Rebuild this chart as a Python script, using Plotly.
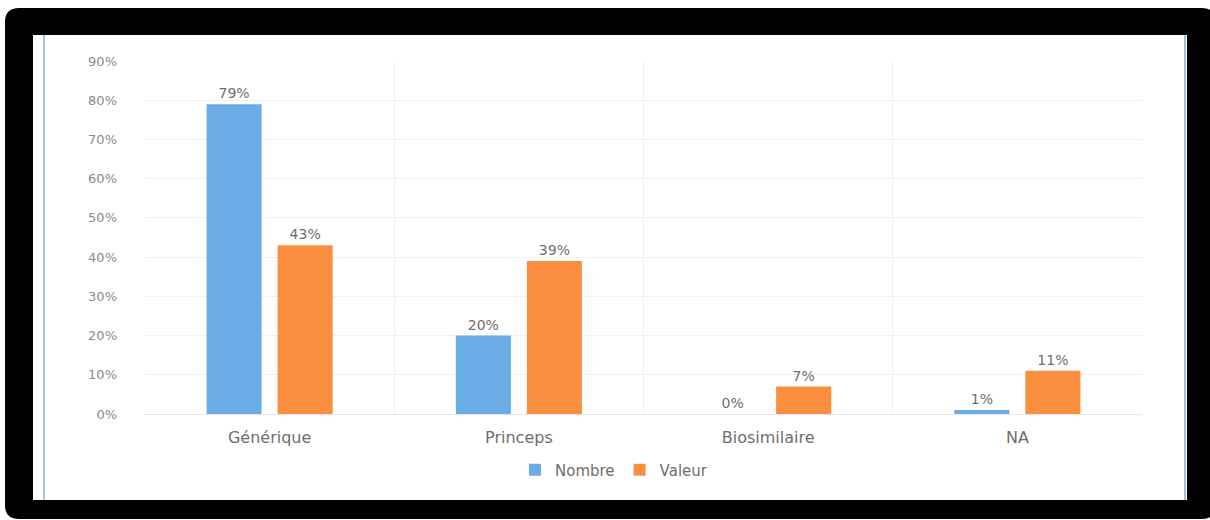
import plotly.graph_objects as go

# Chart data (percent)
categories = ["Générique", "Princeps", "Biosimilaire", "NA"]
nombre = [79, 20, 0, 1]
valeur = [43, 39, 7, 11]
y_ticks = [0, 10, 20, 30, 40, 50, 60, 70, 80, 90]

W, H = 1210, 520
ML, MR, MT, MB = 145, 68, 61, 106
PW, PH = W - ML - MR, H - MT - MB

def px(x):
    return (x - ML) / PW

def py(y):
    return (H - MB - y) / PH

BLUE = "#6AADE4"
ORANGE = "#FC8F3F"
TXT = "#6E6E6E"
FONT = "DejaVu Sans"

def pct(vals):
    return [f"{v}%" for v in vals]

fig = go.Figure()
fig.add_trace(go.Bar(
    name="Nombre", x=categories, y=nombre, marker_color=BLUE,
    marker_line_width=0,
    text=pct(nombre), textposition="outside",
    textfont=dict(size=14, color=TXT, family=FONT), cliponaxis=False,
))
fig.add_trace(go.Bar(
    name="Valeur", x=categories, y=valeur, marker_color=ORANGE,
    marker_line_width=0,
    text=pct(valeur), textposition="outside",
    textfont=dict(size=14, color=TXT, family=FONT), cliponaxis=False,
))

# Black rounded frame with a rectangular opening
def frame_path(x0, y0, x1, y1, r, ix0, iy0, ix1, iy1):
    p = []
    p.append(f"M {px(x0 + r)},{py(y0)}")
    p.append(f"L {px(x1 - r)},{py(y0)}")
    p.append(f"Q {px(x1)},{py(y0)} {px(x1)},{py(y0 + r)}")
    p.append(f"L {px(x1)},{py(y1 - r)}")
    p.append(f"Q {px(x1)},{py(y1)} {px(x1 - r)},{py(y1)}")
    p.append(f"L {px(x0 + r)},{py(y1)}")
    p.append(f"Q {px(x0)},{py(y1)} {px(x0)},{py(y1 - r)}")
    p.append(f"L {px(x0)},{py(y0 + r)}")
    p.append(f"Q {px(x0)},{py(y0)} {px(x0 + r)},{py(y0)} Z")
    p.append(f"M {px(ix0)},{py(iy0)} L {px(ix1)},{py(iy0)} "
             f"L {px(ix1)},{py(iy1)} L {px(ix0)},{py(iy1)} Z")
    return " ".join(p)

shapes = [
    dict(type="path", xref="paper", yref="paper",
         path=frame_path(5, 8, 1216, 519, 14, 33, 35, 1187, 500),
         fillcolor="black", fillrule="evenodd", line=dict(width=0),
         layer="above"),
    dict(type="line", xref="paper", yref="paper",
         x0=px(44), x1=px(44), y0=py(35), y1=py(500),
         line=dict(color="#9DC3E6", width=2)),
    dict(type="line", xref="paper", yref="paper",
         x0=px(1185), x1=px(1185), y0=py(35), y1=py(500),
         line=dict(color="#9DC3E6", width=2)),
]

fig.update_layout(
    width=W, height=H,
    margin=dict(l=ML, r=MR, t=MT, b=MB),
    paper_bgcolor="white", plot_bgcolor="white",
    barmode="group", bargap=0.43, bargroupgap=0.225,
    font=dict(family=FONT, color=TXT),
    shapes=shapes,
    legend=dict(orientation="h", x=px(614), xanchor="center",
                y=py(470), yanchor="middle",
                font=dict(size=15, color=TXT, family=FONT),
                itemwidth=30, traceorder="normal"),
    xaxis=dict(
        showgrid=True, gridcolor="#F0F0F0", gridwidth=1,
        tickson="boundaries", ticks="", showline=False,
        ticklabelstandoff=12,
        tickfont=dict(size=16, color=TXT, family=FONT),
    ),
    yaxis=dict(
        range=[0, 90], tickvals=y_ticks, ticktext=pct(y_ticks),
        showgrid=True, gridcolor="#F0F0F0", gridwidth=1,
        zeroline=True, zerolinecolor="#E4E4E4", zerolinewidth=1,
        showline=False, ticks="", ticklabelstandoff=27,
        tickfont=dict(size=13, color="#8A8A8A", family=FONT),
    ),
)

fig.write_html("out.html")
